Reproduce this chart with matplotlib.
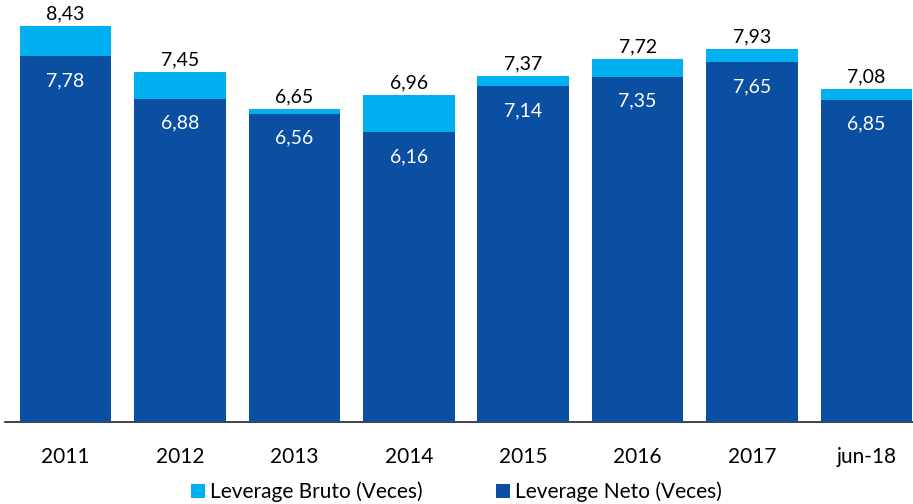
import matplotlib
matplotlib.use("Agg")
import matplotlib.pyplot as plt

categories = ["2011", "2012", "2013", "2014", "2015", "2016", "2017", "jun-18"]
bruto = [8.43, 7.45, 6.65, 6.96, 7.37, 7.72, 7.93, 7.08]
neto = [7.78, 6.88, 6.56, 6.16, 7.14, 7.35, 7.65, 6.85]

LIGHT = "#00B0F0"
DARK = "#0B4FA2"

plt.rcParams["font.family"] = ["Lato", "DejaVu Sans"]

W, H = 913, 504
fig = plt.figure(figsize=(W / 100, H / 100), dpi=100)
# axes placed in pixel units
left, bottom = 5, 504 - 422
ax = fig.add_axes([left / W, bottom / H, 908 / W, 9 * 47 / H])

x = range(len(categories))
ax.bar(x, bruto, width=0.8, color=LIGHT, label="Leverage Bruto (Veces)", zorder=2)
ax.bar(x, neto, width=0.8, color=DARK, label="Leverage Neto (Veces)", zorder=3)

for i, (b, n) in enumerate(zip(bruto, neto)):
    ax.annotate(f"{b:.2f}".replace(".", ","), (i, b), xytext=(0, 8.8),
                textcoords="offset points", ha="center", va="center",
                fontsize=14, color="black", zorder=4)
    ax.annotate(f"{n:.2f}".replace(".", ","), (i, n), xytext=(0, -17.5),
                textcoords="offset points", ha="center", va="center",
                fontsize=14, color="white", zorder=4)

ax.set_xlim(-0.529, 7.406)
ax.set_ylim(0, 9)
ax.set_xticks(list(x))
ax.set_xticklabels(categories, fontsize=15)
ax.tick_params(axis="x", length=0, pad=18)
ax.set_yticks([])
for side in ["top", "right", "left"]:
    ax.spines[side].set_visible(False)
ax.spines["bottom"].set_color("#222222")
ax.spines["bottom"].set_linewidth(1.2)

handles, labels = ax.get_legend_handles_labels()
fig.legend(handles, labels, loc="center", bbox_to_anchor=(0.5, 1 - 492 / H),
           ncol=2, frameon=False, fontsize=15, handlelength=0.67,
           handleheight=0.63, handletextpad=0.24, columnspacing=3.5)

fig.savefig("out.png", dpi=100)
